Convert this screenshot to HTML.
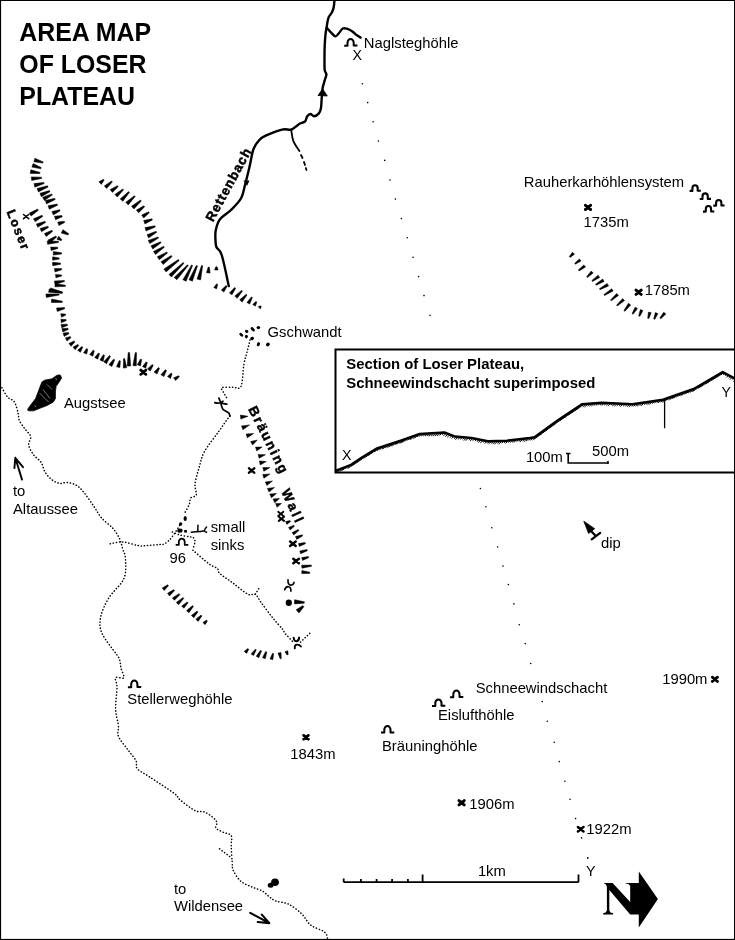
<!DOCTYPE html>
<html><head><meta charset="utf-8"><style>html,body{margin:0;padding:0;background:#fff;width:735px;height:940px;overflow:hidden}svg{display:block;will-change:transform}</style></head>
<body><svg width="735" height="940" viewBox="0 0 735 940">
<rect width="735" height="940" fill="#fff"/>
<text x="19.3" y="41.3" font-family="Liberation Sans" font-size="24.9" font-weight="bold" >AREA MAP</text>
<text x="19.3" y="73.3" font-family="Liberation Sans" font-size="24.9" font-weight="bold" >OF LOSER</text>
<text x="19.3" y="105.3" font-family="Liberation Sans" font-size="24.9" font-weight="bold" >PLATEAU</text>
<path d="M334.5,0 C334.4,1.2 334.1,5.3 333.7,7.3 C333.3,9.3 332.8,10.6 332,12.2 C331.2,13.8 329.5,15.6 328.8,17.1 C328.1,18.6 328,19.6 327.6,21.2 C327.2,22.8 327.1,24.7 326.7,26.9 C326.3,29.1 325.8,31.2 325.5,34.3 C325.2,37.4 324.9,41.4 324.7,45.7 C324.5,50 324.5,55.9 324.5,60 C324.5,64.1 324.4,67.8 324.7,70.2 C325,72.6 326.4,72.8 326.4,74.5 C326.4,76.2 325.3,78.1 324.7,80.4 C324.1,82.7 323.1,85.1 322.6,88.1 C322.1,91.1 322,94.9 321.7,98.3 C321.4,101.7 321.4,106 320.9,108.5 C320.4,111 319.8,112.3 318.7,113.6 C317.6,114.9 315.4,116.1 314,116.2 C312.6,116.3 311.7,114 310.6,114 C309.5,114 308.1,115 307.2,116.2 C306.3,117.4 306.3,120.1 305.1,121.3 C303.9,122.5 301.3,122.8 300,123.5 C298.7,124.2 298.8,124.5 297.3,125.5 C295.8,126.5 293.8,128.9 291.2,129.6 C288.6,130.3 286.2,128.6 282,129.6 C277.8,130.6 269.4,134 265.7,135.7 C262,137.4 261.6,137.6 259.6,139.8 C257.6,142 255.2,144.4 253.5,149 C251.8,153.6 250.8,161.5 249.4,167.3 C248,173.1 246.7,178.6 245.3,183.7 C243.9,188.8 243.6,193.6 241.2,198 C238.8,202.4 234.6,206.4 231,210 C227.4,213.6 222.4,216 219.8,219.4 C217.2,222.8 216.4,227.2 215.7,230.6 C215,234 215.4,237.3 215.5,240 C215.6,242.7 215.4,244.5 216.4,247 C217.4,249.5 219.6,248.5 221.7,255 C223.8,261.5 227.6,280.8 228.8,286" fill="none" stroke="#000" stroke-width="2.4" stroke-linecap="round" stroke-linejoin="round" />
<path d="M326.7,27.8 C327.3,28.5 329,30.4 330.4,31.8 C331.8,33.2 333.9,36 335.3,36.3 C336.7,36.6 337.4,34.8 338.6,33.5 C339.8,32.2 341.4,29.4 342.7,28.6 C344,27.8 345.1,28.1 346.7,28.6 C348.3,29.1 350.8,30.3 352.4,31.4 C354,32.5 355.1,34.1 356.5,35.1 C357.9,36.1 359.9,37.2 360.6,37.6" fill="none" stroke="#000" stroke-width="2.4" stroke-linecap="round" stroke-linejoin="round" />
<path d="M291.2,129.6 C291.6,131.5 291.9,137.2 293.3,140.8 C294.7,144.4 298.4,149.3 299.4,151" fill="none" stroke="#000" stroke-width="1.8" stroke-linecap="round" stroke-linejoin="round" />
<polyline points="301,155 302.5,158" fill="none" stroke="#000" stroke-width="1.8" stroke-linecap="round" stroke-linejoin="round" />
<polyline points="304,162 305,165" fill="none" stroke="#000" stroke-width="1.8" stroke-linecap="round" stroke-linejoin="round" />
<polyline points="305.8,168 306.5,170" fill="none" stroke="#000" stroke-width="1.8" stroke-linecap="round" stroke-linejoin="round" />
<polygon points="322.6,88.8 318,95.5 327.3,96" stroke="#000" stroke-width="0.8" stroke-linejoin="round"/>
<polygon points="247,186 243.5,180.5 249.5,180.5" fill="#000"/>
<text transform="translate(213,222.5) rotate(-61.5)" font-family="Liberation Sans" font-size="13.2" font-weight="bold" letter-spacing="1" stroke="#000" stroke-width="0.5">Rettenbach</text>
<g stroke="#000" stroke-width="0.5" stroke-linejoin="round"><polygon points="33.9,161.8 42.8,163.1 43.2,161.9 34.9,158.2"/><polygon points="31.9,167.1 40.8,168.8 41.2,167.6 33.1,163.5"/><polygon points="30.2,173.4 39.9,173.6 40.1,172.4 30.8,169.8"/><polygon points="31.7,180.5 41.7,178.4 41.5,177.2 31.3,176.9"/><polygon points="34.8,187.2 44.2,183.6 43.8,182.4 34,183.6"/><polygon points="38.4,191.9 48,187 47.6,185.8 37,188.5"/><polygon points="41.3,196.7 50,191.8 49.4,190.6 39.9,193.3"/><polygon points="44.4,200.5 52.3,195.1 51.7,193.9 42.6,197.3"/><polygon points="46.5,203.9 55.2,199.5 54.8,198.3 45.3,200.5"/><polygon points="49.3,209.3 57.6,205.2 57.2,204 48.1,205.7"/><polygon points="53.3,214.9 60,210.9 59.6,209.7 51.9,211.5"/><polygon points="55.5,219.8 62.3,216.7 61.9,215.5 54.5,216.2"/><polygon points="58.9,225.6 64.7,222.4 64.3,221.2 57.7,222"/><polygon points="61.3,233.1 68.1,234.9 68.7,233.7 62.9,229.7"/></g>
<g stroke="#000" stroke-width="0.5" stroke-linejoin="round"><polygon points="31.1,216.1 38.3,210.3 37.7,209.1 29.3,213.1"/><polygon points="35.1,221.8 42.7,216.4 42.1,215.2 33.5,218.8"/><polygon points="37.8,227.2 45.6,222.5 45,221.3 36.4,224"/><polygon points="41.5,231.7 48.5,227.4 47.9,226.2 40.1,228.5"/><polygon points="46.2,236.5 52.5,231.5 51.9,230.3 44.4,233.5"/><polygon points="50,243 56.7,237.1 55.9,236.1 48,240"/><polygon points="47.5,244.3 58.5,242.5 58.5,241.3 47.3,240.9"/><polygon points="56.9,239.3 61.3,240.7 61.9,239.7 58.7,236.3"/><polygon points="51.2,250.5 57.9,248.4 57.7,247.2 50.6,247.1"/><polygon points="53.3,255.1 61.6,254 61.6,252.7 53.3,251.6"/><polygon points="52.6,260.2 59.2,259.1 59.2,257.9 52.6,256.8"/><polygon points="52.7,265.7 60.6,264.3 60.6,263.1 52.5,262.3"/><polygon points="55,272 61.7,269.8 61.5,268.6 54.4,268.6"/><polygon points="55.9,277.8 61.7,276.1 61.5,274.9 55.5,274.4"/><polygon points="55,284.4 64.5,281.6 64.3,280.4 54.4,281"/><polygon points="54.9,286.8 65.4,286.4 65.4,285.2 55.1,283.4"/><polygon points="49.8,291.3 62.1,293.3 62.5,292.1 50.6,287.9"/><polygon points="48.6,292.3 62.2,293.2 62.4,292 49.2,288.9"/><polygon points="46.3,297.4 59.2,295.1 59,293.9 45.9,294"/><polygon points="51.3,302.5 62.2,302.4 62.4,301.2 51.7,299.1"/><polygon points="57.3,311.5 64.7,308.8 64.5,307.6 56.5,308.1"/><polygon points="61.5,317.2 65.6,315.2 65.4,314 60.7,313.8"/><polygon points="61.4,322.7 66.3,320.6 66.1,319.4 60.8,319.3"/><polygon points="61.8,327.8 67.5,325.4 67.3,324.2 61,324.4"/><polygon points="62.7,331.9 68.2,329.5 68,328.3 61.9,328.5"/><polygon points="64.1,336.4 68.9,333.7 68.5,332.5 63.1,333"/><polygon points="67,341.1 70.9,337.8 70.3,336.6 65.4,337.9"/><polygon points="71.1,346.3 74.9,341.9 74.1,340.9 68.9,343.5"/><polygon points="75.2,349.7 78.7,345.4 77.9,344.4 73,347.1"/><polygon points="80.4,352.3 82.8,347.2 81.8,346.4 77.6,350.3"/><polygon points="86.7,354.1 87.8,349.2 86.6,348.6 83.5,352.7"/><polygon points="92.9,356.2 94.3,350.8 93.1,350.2 89.7,354.6"/><polygon points="97.7,359.2 99.6,353.7 98.4,353.1 94.7,357.4"/><polygon points="103.1,361.4 104.5,355.3 103.3,354.7 99.9,360"/><polygon points="106.5,363.8 110.5,356.2 109.5,355.4 103.7,361.8"/><polygon points="111.9,366.5 114.7,359.8 113.5,359.2 108.9,364.7"/><polygon points="119.9,367.6 120.4,360.9 119.2,360.5 116.5,366.8"/><polygon points="126.7,367.7 124.7,358.6 123.5,358.8 123.3,368.1"/><polygon points="130.7,366.1 129.6,352.6 128.2,352.6 127.2,366.1"/><polygon points="136.3,365.9 136.5,352.7 135.3,352.5 132.9,365.5"/><polygon points="140.5,365.9 141.7,359.4 140.5,359 137.3,364.7"/><polygon points="145.7,368.2 147.3,362.5 146.1,361.9 142.5,366.6"/><polygon points="150.3,371.1 153.3,365.2 152.3,364.4 147.5,368.9"/><polygon points="157,374.1 159.5,368.3 158.5,367.5 154,372.1"/><polygon points="163.9,376.6 166.5,370.4 165.3,369.8 160.9,374.8"/><polygon points="170.5,378.5 172.1,373.9 171.1,373.1 167.5,376.5"/><polygon points="175.6,380.6 179.4,376.7 178.6,375.7 173.6,377.8"/></g>
<g stroke="#000" stroke-width="0.5" stroke-linejoin="round"><polygon points="101.3,184.4 104.2,180.1 103.4,179.3 98.9,181.8"/><polygon points="106.7,188.5 112.4,181.8 111.6,181 104.3,185.9"/><polygon points="112.4,192.4 118.2,186.7 117.4,185.7 110.2,189.6"/><polygon points="117.3,197 123.6,189.7 122.8,188.9 114.9,194.4"/><polygon points="122.8,201.3 129.4,192.4 128.6,191.6 120.2,198.9"/><polygon points="128.2,204.9 135.2,196.5 134.4,195.7 125.8,202.3"/><polygon points="133.9,209 141.3,201 140.5,200 131.5,206.2"/><polygon points="138.6,212.8 144.7,206.8 143.9,205.8 136.4,210"/><polygon points="143.7,218 149.3,212.8 148.7,211.8 141.7,215"/><polygon points="144.9,223.9 152.4,220 152,218.8 143.7,220.5"/><polygon points="146,231 155.3,227 154.9,225.8 145,227.6"/><polygon points="148.6,237.9 156.7,232.3 156.1,231.3 147,234.7"/><polygon points="149.8,243.6 158.6,238 158,237 148.2,240.4"/><polygon points="152.8,249 161.1,242.8 160.5,241.8 151,245.8"/><polygon points="155.5,254.4 164.3,247.3 163.7,246.3 153.5,251.4"/><polygon points="159.3,259.8 167.5,253 166.9,252 157.3,256.8"/><polygon points="163.2,264.5 172.1,256.5 171.3,255.5 161,261.7"/><polygon points="166.1,271.9 179.2,260.5 178.4,259.5 163.9,269.1"/><polygon points="171.4,277 184,263.3 183.2,262.5 169,274.4"/><polygon points="176.8,279.8 188.3,265.6 187.5,264.8 174.2,277.4"/><polygon points="186.1,281.3 192.6,265.5 191.6,264.9 182.9,279.7"/><polygon points="192.4,281.2 197.5,265.9 196.3,265.5 189,279.8"/><polygon points="200.6,279.9 202.7,265.8 201.5,265.6 197,279.1"/><polygon points="210.1,273.1 209.4,267.2 208.2,267 206.5,272.7"/><polygon points="218.2,270 217,266.7 215.8,266.7 214.6,270"/></g>
<g stroke="#000" stroke-width="0.5" stroke-linejoin="round"><polygon points="216.6,288.9 217.7,284.4 216.7,283.8 213.8,287.5"/><polygon points="223.9,292.1 227.1,286.2 226.1,285.4 221.3,290.1"/><polygon points="232,294.8 235.7,288.2 234.7,287.4 229.4,293"/><polygon points="237.2,298.3 242.5,291.1 241.7,290.3 234.8,296.1"/><polygon points="242.1,302 247,295.1 246.2,294.3 239.7,299.8"/><polygon points="249.7,304.1 252.4,297.5 251.4,296.9 246.9,302.5"/><polygon points="255.3,306.2 256.9,302 255.9,301.4 252.7,304.4"/><polygon points="260.4,308.9 261.3,306.6 260.5,305.8 258.2,306.7"/></g>
<g stroke="#000" stroke-width="0.5" stroke-linejoin="round"><polygon points="572.5,252.2 569.3,256.6 570.1,257.4 574.5,254.2"/><polygon points="579.4,258.9 574.7,263.2 575.3,264.2 581,261.1"/><polygon points="583.9,264.9 578.3,269.9 579.1,270.9 585.5,267.1"/><polygon points="591.2,271 586.6,276.8 587.4,277.6 593.2,273"/><polygon points="598.1,275.2 591.9,280.4 592.5,281.4 599.7,277.6"/><polygon points="602.7,279 595.6,284.2 596.2,285.2 604.1,281.4"/><polygon points="607.2,283.5 599.4,288.7 600,289.7 608.6,285.9"/><polygon points="611.7,288.7 603.9,294.6 604.5,295.6 613.1,291.1"/><polygon points="616.7,293.4 610.5,300 611.3,300.8 618.5,295.4"/><polygon points="622.7,298.6 616.5,305.2 617.3,306 624.5,300.6"/><polygon points="628.5,303.2 623.9,310.5 624.9,311.3 630.7,305"/><polygon points="635.1,307.2 632.1,313.6 633.1,314.2 637.5,308.6"/><polygon points="640.3,309.6 638.7,315.9 639.9,316.3 642.9,310.6"/><polygon points="648.4,312.1 647.7,318.3 648.9,318.5 651.2,312.7"/><polygon points="655.3,312.6 653.7,318.9 654.9,319.3 657.9,313.6"/><polygon points="663.7,312.2 659.8,318 660.8,318.8 665.9,314"/></g>
<polygon points="60.8,375.8 61.5,378.2 58.1,383.6 56.1,386.3 55.4,391.8 55.4,398.6 53.3,402 47.2,405.4 40.4,408.1 33.6,410.8 28.2,410.8 27.5,409.5 30.9,404.7 35.6,398.6 39,389.7 41.8,382.2 44.5,380.2 52,378.8 56.7,375.4 59.5,374.8" fill="#000" stroke="#000" stroke-width="0.8" stroke-linejoin="round"/>
<path d="M39.5,393 L48.5,402 M43,389.5 L50,398.5 M47,384.5 L52,389.5 M34.5,405 L36,407 M55.5,378 L57,380" stroke="#fff" stroke-width="0.55" opacity="0.85"/>
<path d="M1.9,387.7 C2.9,389.3 5.6,394.8 7.7,397.2 C9.8,399.6 12.7,399.3 14.4,402 C16.1,404.7 17.4,410.5 18.2,413.5 C19,416.5 18.1,417.6 19.2,420.2 C20.3,422.8 23,426.2 24.9,428.9 C26.8,431.6 30.1,433.8 30.7,436.5 C31.3,439.2 28.2,442.1 28.7,445.1 C29.2,448.1 31.4,451.8 33.5,454.7 C35.6,457.6 39.3,459.5 41.2,462.4 C43.1,465.3 43.2,469.1 45,472 C46.8,474.9 49.3,477.7 51.7,479.6 C54.1,481.5 56.9,482.9 59.4,483.4 C61.9,483.9 64.1,482.2 67,482.5 C69.9,482.8 73.7,483.6 76.6,485.4 C79.5,487.1 81.4,489.5 84.3,493 C87.2,496.5 91,502.2 93.9,506.4 C96.8,510.5 98.3,514.2 101.5,517.9 C104.7,521.6 110,525 113,528.5 C116,532 118.1,535.6 119.7,539 C121.3,542.4 121.6,545.2 122.6,548.6 C123.6,552 125.3,554.1 125.5,559.1 C125.7,564.1 126.6,572.3 123.8,578.8 C121,585.3 112.6,591.5 108.8,597.9 C105,604.2 101.8,611 100.7,616.9 C99.6,622.8 99.3,626.9 102,633.3 C104.7,639.6 114,650.5 117,655 C120,659.5 119,657.8 119.7,660 C120.4,662.2 120.3,665.2 121,668.2 C121.7,671.2 124.7,676.1 123.8,677.7 C122.9,679.3 116.7,676.1 115.6,677.7 C114.5,679.3 117,682 117,687.2 C117,692.4 115.4,702.6 115.6,709 C115.8,715.4 117.9,720.8 118.4,725.3 C118.9,729.8 116.8,732.1 118.4,736.2 C120,740.3 125,745.7 127.9,749.8 C130.8,753.9 134.4,757.5 136,760.7 C137.6,763.9 135.1,766.1 137.4,768.8 C139.7,771.5 143.6,772.9 149.7,777 C155.8,781.1 169,789.5 174.1,793.3 C179.2,797.1 176.5,796.9 180,799.8 C183.5,802.7 191.2,808.7 195.2,810.7 C199.2,812.7 201.1,810.7 204,811.8 C206.9,812.9 210.5,815.4 212.7,817.2 C214.9,819 216.5,820.9 217,822.7 C217.5,824.5 214.8,826.5 215.9,828.1 C217,829.7 220.9,831.1 223.5,832.4 C226.1,833.7 229.9,833.3 231.2,835.7 C232.5,838.1 231,842.2 231.2,846.6 C231.4,851 231.8,857.8 232.2,861.8 C232.5,865.8 231.8,867.2 233.3,870.5 C234.8,873.8 237.9,878.7 241,881.4 C244.1,884.1 248.2,885.3 251.8,886.9 C255.4,888.5 259.8,889.6 262.7,891.2 C265.6,892.8 267,895.1 269.2,896.7 C271.4,898.3 272.5,899.7 275.8,901 C279.1,902.3 284.5,902.1 288.8,904.3 C293.1,906.5 298.3,910.6 301.9,914.1 C305.5,917.6 307,922.1 310.6,925 C314.2,927.9 321,929.7 323.7,931.5 C326.4,933.3 326.4,934.5 327,935.8 C327.6,937 327.4,938.5 327.5,939" fill="none" stroke="#000" stroke-width="1.5" stroke-linecap="round" stroke-linejoin="round" stroke-dasharray="0.25 2.9"/>
<polyline points="219.5,848.8 230.3,857" fill="none" stroke="#000" stroke-width="1.5" stroke-linecap="round" stroke-linejoin="round" stroke-dasharray="0.25 2.9"/>
<path d="M110.2,543.8 C112.3,543.5 117.8,541.6 122.6,541.9 C127.4,542.2 134.3,545.1 138.9,545.7 C143.5,546.3 146.5,545.5 150,545.3 C153.5,545.1 157.5,544.8 160,544.5 C162.5,544.2 163,544.9 165,543.6 C167,542.4 169.4,540.3 172,537 C174.6,533.7 179.2,526.2 180.6,524" fill="none" stroke="#000" stroke-width="1.5" stroke-linecap="round" stroke-linejoin="round" stroke-dasharray="0.25 2.9"/>
<path d="M172.3,532 C173.6,532.5 177.1,534.2 180,535 C182.9,535.8 187.3,536.4 189.5,536.8 C191.7,537.2 192.3,536.7 193.2,537.5 C194.1,538.3 195.1,539.8 195,541.7 C194.9,543.6 193.2,547.8 192.9,549" fill="none" stroke="#000" stroke-width="1.5" stroke-linecap="round" stroke-linejoin="round" stroke-dasharray="0.25 2.9"/>
<path d="M250,340 C249.6,341.7 248.5,346.1 247.5,350.2 C246.5,354.3 245,358.3 243.9,364.4 C242.8,370.4 242.8,382.7 241,386.5 C239.2,390.3 236.2,387 233,387.2 C229.8,387.4 223.6,386.9 221.9,387.6 C220.2,388.3 222.6,390.3 223,391.4 C223.4,392.5 224.1,393.5 224.6,394.4 C225.1,395.3 225.8,395.7 226.2,396.6 C226.6,397.5 226.7,399.3 226.8,399.9" fill="none" stroke="#000" stroke-width="1.5" stroke-linecap="round" stroke-linejoin="round" stroke-dasharray="0.25 2.9"/>
<path d="M230,416 C229.6,416.5 229.6,416.2 227.6,418.9 C225.6,421.6 221.9,427 218.1,432.4 C214.2,437.8 207.7,445.6 204.5,451.5 C201.3,457.4 200.6,462.4 199,467.8 C197.4,473.2 195.4,479.6 195,484.1 C194.6,488.6 197,492.7 196.3,495 C195.6,497.3 192.1,496.1 190.9,497.8 C189.7,499.5 190.2,502.3 189,505 C187.8,507.7 184.8,512.7 184,514.2" fill="none" stroke="#000" stroke-width="1.5" stroke-linecap="round" stroke-linejoin="round" stroke-dasharray="0.25 2.9"/>
<path d="M192.9,550.2 C195.6,552.5 204.7,560.6 208.8,563.7 C212.9,566.8 215.6,567 217.4,568.6 C219.2,570.2 217.2,571 219.8,573.5 C222.5,576 228.6,579.8 233.3,583.3 C238,586.8 244.3,592.5 248,594.3 C251.7,596.1 253.1,592.9 255.3,594.3 C257.5,595.7 258.5,599 261.4,602.9 C264.3,606.8 269,613.2 272.5,617.6 C276,622 280.5,626.7 282.6,629.3 C284.7,631.9 283.2,631 285,633.2 C286.8,635.4 292.2,641 293.6,642.6" fill="none" stroke="#000" stroke-width="1.5" stroke-linecap="round" stroke-linejoin="round" stroke-dasharray="0.25 2.9"/>
<polyline points="255.3,594.3 259,588.2" fill="none" stroke="#000" stroke-width="1.5" stroke-linecap="round" stroke-linejoin="round" stroke-dasharray="0.25 2.9"/>
<polyline points="300.5,642.1 310.3,632.8" fill="none" stroke="#000" stroke-width="1.5" stroke-linecap="round" stroke-linejoin="round" stroke-dasharray="0.25 2.9"/>
<circle cx="362.3" cy="83.8" r="0.8"/>
<circle cx="367.7" cy="102.6" r="0.8"/>
<circle cx="373.1" cy="121.7" r="0.8"/>
<circle cx="378.4" cy="141" r="0.8"/>
<circle cx="384.7" cy="160.4" r="0.8"/>
<circle cx="390" cy="180" r="0.8"/>
<circle cx="395.4" cy="199.1" r="0.8"/>
<circle cx="401.4" cy="218.5" r="0.8"/>
<circle cx="407.3" cy="237.8" r="0.8"/>
<circle cx="413" cy="257.2" r="0.8"/>
<circle cx="418.6" cy="276.6" r="0.8"/>
<circle cx="424" cy="295.6" r="0.8"/>
<circle cx="430" cy="315.3" r="0.8"/>
<circle cx="480.4" cy="488.5" r="0.8"/>
<circle cx="485.9" cy="506.7" r="0.8"/>
<circle cx="491.8" cy="527.7" r="0.8"/>
<circle cx="497.6" cy="547" r="0.8"/>
<circle cx="503" cy="566" r="0.8"/>
<circle cx="508.4" cy="584.6" r="0.8"/>
<circle cx="513.9" cy="603.9" r="0.8"/>
<circle cx="519.3" cy="624.8" r="0.8"/>
<circle cx="525.3" cy="643.6" r="0.8"/>
<circle cx="530.7" cy="663.5" r="0.8"/>
<circle cx="542.2" cy="701.6" r="0.8"/>
<circle cx="547.3" cy="721.3" r="0.8"/>
<circle cx="554.2" cy="742.3" r="0.8"/>
<circle cx="559.3" cy="761.6" r="0.8"/>
<circle cx="564.9" cy="781.3" r="0.8"/>
<circle cx="570" cy="799.3" r="0.8"/>
<circle cx="575.6" cy="818.6" r="0.8"/>
<circle cx="581.6" cy="837.9" r="0.8"/>
<circle cx="587.7" cy="858" r="0.8"/>
<polygon points="240.8,419.1 248,416.3 240.4,415.1" stroke="#000" stroke-width="0.5" stroke-linejoin="round"/>
<polygon points="242.9,429.7 249.6,424.9 241.5,425.9" stroke="#000" stroke-width="0.5" stroke-linejoin="round"/>
<polygon points="247.3,437.8 253.7,433.5 246.1,434" stroke="#000" stroke-width="0.5" stroke-linejoin="round"/>
<polygon points="252.6,445 257.3,440 250.6,441.6" stroke="#000" stroke-width="0.5" stroke-linejoin="round"/>
<polygon points="256.7,450.9 262.2,447 255.5,447.1" stroke="#000" stroke-width="0.5" stroke-linejoin="round"/>
<polygon points="259.1,458.2 265.5,454.7 258.1,454.4" stroke="#000" stroke-width="0.5" stroke-linejoin="round"/>
<polygon points="260.2,464.9 266.3,461.6 259.4,460.9" stroke="#000" stroke-width="0.5" stroke-linejoin="round"/>
<polygon points="263.8,471.3 270,467.5 262.8,467.5" stroke="#000" stroke-width="0.5" stroke-linejoin="round"/>
<polygon points="263.9,478.2 270,474 262.7,474.4" stroke="#000" stroke-width="0.5" stroke-linejoin="round"/>
<polygon points="266.9,485.5 272.5,481 265.3,481.9" stroke="#000" stroke-width="0.5" stroke-linejoin="round"/>
<polygon points="269,492 274.5,487.5 267.4,488.4" stroke="#000" stroke-width="0.5" stroke-linejoin="round"/>
<polygon points="271.4,497.8 276.5,493.5 269.8,494" stroke="#000" stroke-width="0.5" stroke-linejoin="round"/>
<polygon points="274.7,502.7 279.5,498.5 273.1,498.9" stroke="#000" stroke-width="0.5" stroke-linejoin="round"/>
<polygon points="277,507.2 281.5,503.5 275.6,503.4" stroke="#000" stroke-width="0.5" stroke-linejoin="round"/>
<text transform="translate(248,409) rotate(63.5)" font-family="Liberation Sans" font-size="13.4" font-weight="bold" letter-spacing="2" stroke="#000" stroke-width="0.5">Bräuning</text>
<text transform="translate(281,491.6) rotate(65.4)" font-family="Liberation Sans" font-size="13.4" font-weight="bold" letter-spacing="2.6" stroke="#000" stroke-width="0.5">Wall</text>
<g stroke="#000" stroke-width="0.5" stroke-linejoin="round"><polygon points="286.8,524.4 290.6,521.6 290,520.6 285.6,521.6"/><polygon points="290.2,530 294.4,526.3 293.8,525.3 288.6,527.4"/><polygon points="293.7,535 298.9,530.5 298.3,529.5 292.1,532.6"/><polygon points="296.7,539.4 302.6,536 302.2,534.8 295.5,536.6"/><polygon points="299.3,546.4 305.5,543.7 305.1,542.5 298.5,543.6"/><polygon points="300.6,553.7 307.4,550.7 307,549.5 299.8,550.9"/><polygon points="302.5,560.4 308.7,557.7 308.3,556.5 301.7,557.6"/><polygon points="302,568.2 311.5,566.3 311.3,565.1 301.6,565.2"/><polygon points="301.7,573.6 309.7,573.4 309.9,572.2 301.9,570.6"/></g>
<g stroke="#000" stroke-width="0.5" stroke-linejoin="round"><polygon points="164.2,590.5 168.5,585.7 167.7,584.7 162.2,588.1"/><polygon points="169.5,595.9 174.6,590.6 173.8,589.6 167.5,593.3"/><polygon points="174.4,600.3 179.9,594.7 179.1,593.7 172.4,597.9"/><polygon points="178.5,604.8 183.9,598.3 183.1,597.5 176.3,602.4"/><polygon points="183.9,608.3 188.1,602.7 187.3,601.9 181.7,606.1"/><polygon points="188.9,612.8 193.4,606.4 192.6,605.6 186.5,610.6"/><polygon points="193.8,617.7 197.9,611.9 197.1,611.1 191.4,615.5"/><polygon points="198.2,621.4 201.9,615.9 201.1,615.1 195.8,619.2"/><polygon points="205.1,624.7 207.4,620.9 206.6,620.1 202.9,622.5"/></g>
<g stroke="#000" stroke-width="0.5" stroke-linejoin="round"><polygon points="246.6,653.4 248.8,649.3 247.8,648.5 244.2,651.4"/><polygon points="253.5,655.5 256.3,649.8 255.3,649.2 251.1,653.9"/><polygon points="258.8,657.7 261.5,650.9 260.5,650.3 256.2,656.3"/><polygon points="265.3,658.7 266.8,652 265.6,651.6 262.5,657.7"/><polygon points="272.8,659.7 273.7,653.7 272.5,653.3 270,658.9"/><polygon points="278,653.1 280.1,658.8 281.3,658.6 281,652.5"/><polygon points="285,651.7 287,654.9 288.2,654.5 287.8,650.7"/></g>
<text x="363.8" y="47.6" font-family="Liberation Sans" font-size="14.8" >Naglsteghöhle</text>
<text x="352.6" y="60.4" font-family="Liberation Sans" font-size="14.2" >X</text>
<text x="523.8" y="186.9" font-family="Liberation Sans" font-size="14.8" >Rauherkarhöhlensystem</text>
<text x="583.5" y="227.3" font-family="Liberation Sans" font-size="14.8" >1735m</text>
<text x="644.7" y="294.7" font-family="Liberation Sans" font-size="14.8" >1785m</text>
<text x="267.6" y="337.2" font-family="Liberation Sans" font-size="14.8" >Gschwandt</text>
<text x="64" y="408.4" font-family="Liberation Sans" font-size="14.8" >Augstsee</text>
<text x="13" y="495.9" font-family="Liberation Sans" font-size="14.8" >to</text>
<text x="13" y="514.4" font-family="Liberation Sans" font-size="14.8" >Altaussee</text>
<text x="210.7" y="531.8" font-family="Liberation Sans" font-size="14.8" >small</text>
<text x="210.7" y="550.2" font-family="Liberation Sans" font-size="14.8" >sinks</text>
<text x="169.6" y="562.5" font-family="Liberation Sans" font-size="14.8" >96</text>
<text x="601" y="547.6" font-family="Liberation Sans" font-size="14.8" >dip</text>
<text x="127.3" y="703.5" font-family="Liberation Sans" font-size="14.8" >Stellerweghöhle</text>
<text x="290.3" y="758.5" font-family="Liberation Sans" font-size="14.8" >1843m</text>
<text x="382" y="750.7" font-family="Liberation Sans" font-size="14.8" >Bräuninghöhle</text>
<text x="475.7" y="693" font-family="Liberation Sans" font-size="14.8" >Schneewindschacht</text>
<text x="438" y="720.2" font-family="Liberation Sans" font-size="14.8" >Eislufthöhle</text>
<text x="662.2" y="683.6" font-family="Liberation Sans" font-size="14.8" >1990m</text>
<text x="469.3" y="809.2" font-family="Liberation Sans" font-size="14.8" >1906m</text>
<text x="586.3" y="833.6" font-family="Liberation Sans" font-size="14.8" >1922m</text>
<text x="174" y="893.7" font-family="Liberation Sans" font-size="14.8" >to</text>
<text x="174" y="911.4" font-family="Liberation Sans" font-size="14.8" >Wildensee</text>
<text x="477.9" y="876" font-family="Liberation Sans" font-size="14.8" >1km</text>
<text x="586" y="875.7" font-family="Liberation Sans" font-size="14.2" >Y</text>
<text transform="translate(6.6,211.8) rotate(68.5)" font-family="Liberation Sans" font-size="12.6" font-weight="bold" letter-spacing="1.8" stroke="#000" stroke-width="0.5">Loser</text>
<path d="M344.2,45.7 h3.3 v-3 a3.1,3.6 0 0 1 6.2,0 v2.8 h3.8" fill="none" stroke="#000" stroke-width="2" stroke-linejoin="round"/>
<path d="M689.6,190.9 h2.8 v-2.5 a2.6,3.1 0 0 1 5.3,0 v2.4 h3.2" fill="none" stroke="#000" stroke-width="2.1" stroke-linejoin="round"/>
<path d="M699.7,199 h2.8 v-2.5 a2.6,3.1 0 0 1 5.3,0 v2.4 h3.2" fill="none" stroke="#000" stroke-width="2.1" stroke-linejoin="round"/>
<path d="M713.3,205.6 h2.8 v-2.5 a2.6,3.1 0 0 1 5.3,0 v2.4 h3.2" fill="none" stroke="#000" stroke-width="2.1" stroke-linejoin="round"/>
<path d="M703,211.6 h2.8 v-2.5 a2.6,3.1 0 0 1 5.3,0 v2.4 h3.2" fill="none" stroke="#000" stroke-width="2.1" stroke-linejoin="round"/>
<path d="M127.9,687.2 h3.3 v-3 a3.1,3.6 0 0 1 6.2,0 v2.8 h3.8" fill="none" stroke="#000" stroke-width="2" stroke-linejoin="round"/>
<path d="M381,732.6 h3.3 v-3 a3.1,3.6 0 0 1 6.2,0 v2.8 h3.8" fill="none" stroke="#000" stroke-width="2" stroke-linejoin="round"/>
<path d="M432,706 h3.3 v-3 a3.1,3.6 0 0 1 6.2,0 v2.8 h3.8" fill="none" stroke="#000" stroke-width="2" stroke-linejoin="round"/>
<path d="M450,697.2 h3.3 v-3 a3.1,3.6 0 0 1 6.2,0 v2.8 h3.8" fill="none" stroke="#000" stroke-width="2" stroke-linejoin="round"/>
<path d="M175.7,544.9 h3.1 v-2.8 a2.9,3.4 0 0 1 5.9,0 v2.7 h3.6" fill="none" stroke="#000" stroke-width="1.7" stroke-linejoin="round"/>
<path d="M585.4,205.3 L590.6,209.5 M585.4,209.5 L590.6,205.3" stroke="#000" stroke-width="3" stroke-linecap="round"/>
<circle cx="588" cy="207.4" r="2"/>
<path d="M636,290.1 L641.2,294.3 M636,294.3 L641.2,290.1" stroke="#000" stroke-width="3" stroke-linecap="round"/>
<circle cx="638.6" cy="292.2" r="2"/>
<path d="M140.7,370.1 L145.9,374.3 M140.7,374.3 L145.9,370.1" stroke="#000" stroke-width="2.8" stroke-linecap="round"/>
<circle cx="143.3" cy="372.2" r="1.8"/>
<path d="M303.6,735.4 L308.4,739.2 M303.6,739.2 L308.4,735.4" stroke="#000" stroke-width="2.8" stroke-linecap="round"/>
<circle cx="306" cy="737.3" r="1.8"/>
<path d="M712.3,677.2 L717.5,681.4 M712.3,681.4 L717.5,677.2" stroke="#000" stroke-width="2.8" stroke-linecap="round"/>
<circle cx="714.9" cy="679.3" r="1.8"/>
<path d="M459,800.6 L464.2,804.8 M459,804.8 L464.2,800.6" stroke="#000" stroke-width="3" stroke-linecap="round"/>
<circle cx="461.6" cy="802.7" r="2"/>
<path d="M577.9,827.1 L583.5,831.5 M577.9,831.5 L583.5,827.1" stroke="#000" stroke-width="2.5" stroke-linecap="round"/>
<circle cx="580.7" cy="829.3" r="1.7"/>
<path d="M23.5,214.5 L28.7,218.7 M23.5,218.7 L28.7,214.5" stroke="#000" stroke-width="1.6" stroke-linecap="round"/>
<path d="M249,468.4 L254.2,472.6 M249,472.6 L254.2,468.4" stroke="#000" stroke-width="2.5" stroke-linecap="round"/>
<circle cx="251.6" cy="470.5" r="1.7"/>
<path d="M278.8,516.7 L284,520.9 M278.8,520.9 L284,516.7" stroke="#000" stroke-width="2.1" stroke-linecap="round"/>
<path d="M290.1,541.5 L295.7,545.9 M290.1,545.9 L295.7,541.5" stroke="#000" stroke-width="2.5" stroke-linecap="round"/>
<circle cx="292.9" cy="543.7" r="1.7"/>
<path d="M293.3,558.8 L298.9,563.2 M293.3,563.2 L298.9,558.8" stroke="#000" stroke-width="2.5" stroke-linecap="round"/>
<circle cx="296.1" cy="561" r="1.7"/>
<path d="M278.2,511.8 L283.4,516 M278.2,516 L283.4,511.8" stroke="#000" stroke-width="1.8" stroke-linecap="round"/>
<path d="M218.9,398 C219.5,400 220.5,401.5 220.8,402.9 M214.8,402.6 C217,403.5 219,403 220.8,402.9 C223,403.5 225,403.8 226.8,404.2 M223,401.2 L221.5,402.5 M220.8,403.5 C221.5,406 222,408 223,409.4 C225,411 227.5,412 229,413.2 L230,416" fill="none" stroke="#000" stroke-width="1.7" stroke-linecap="round" stroke-linejoin="round"/>
<path d="M293.6,637.7 C294,640.5 295,641.3 296.4,641.3 C298,641.3 299,640 299.1,637.4 M294.8,648.3 C294.5,645.5 295.5,644.6 297.2,644.6 C299,644.6 300.2,645.5 300.9,646.6" fill="none" stroke="#000" stroke-width="1.9" stroke-linecap="round"/>
<ellipse cx="241.3" cy="334.7" rx="2.3" ry="1.4" transform="rotate(40 241.3 334.7)"/>
<ellipse cx="246.7" cy="331.4" rx="1.8" ry="1.5" transform="rotate(30 246.7 331.4)"/>
<ellipse cx="252.7" cy="329.3" rx="2.6" ry="1.5" transform="rotate(45 252.7 329.3)"/>
<ellipse cx="258.4" cy="327.6" rx="1.8" ry="1.7" transform="rotate(0 258.4 327.6)"/>
<ellipse cx="246.4" cy="336.6" rx="1.5" ry="1.8" transform="rotate(0 246.4 336.6)"/>
<ellipse cx="252.1" cy="338.5" rx="2" ry="1.6" transform="rotate(-30 252.1 338.5)"/>
<ellipse cx="258.4" cy="344.2" rx="1.5" ry="2.2" transform="rotate(20 258.4 344.2)"/>
<ellipse cx="267.9" cy="344.5" rx="2" ry="1.7" transform="rotate(-30 267.9 344.5)"/>
<ellipse cx="185.2" cy="518.5" rx="1.6" ry="2.5"/>
<circle cx="180.6" cy="524" r="1.7"/>
<ellipse cx="180" cy="530.7" rx="2.7" ry="2.1"/>
<rect x="184.2" y="530" width="2.7" height="2.6"/>
<path d="M191.3,532.2 C195,531.5 199,532 204.2,530.7 M197.5,531 C198.5,529 197.5,527 198,525.2 M204.2,530.7 C205,529 205.5,528 206.6,527 M204.2,530.7 C205,531.5 205.5,532 206.6,532.2" fill="none" stroke="#000" stroke-width="1.5" stroke-linecap="round"/>
<path d="M288,579.8 C287.5,584 290,585.5 291.5,585 C293,584.5 294,583.5 294,582.2 M284.7,589.8 C285.5,587 287,586.5 288.5,586.7 C290.5,587 291,589.5 290.9,591.3" fill="none" stroke="#000" stroke-width="1.6" stroke-linecap="round"/>
<ellipse cx="288.8" cy="602.7" rx="3.1" ry="3.3"/>
<g stroke="#000" stroke-width="0.5" stroke-linejoin="round"><polygon points="294.4,603.9 304.2,603.2 304.4,601.8 294.6,599.7"/><polygon points="299,613 303.9,606.7 302.9,605.5 296.2,609.8"/></g>
<path d="M22,479.6 L15.3,457.8 M14.4,468.1 L15.3,457.8 L23,467.2" fill="none" stroke="#000" stroke-width="1.9" stroke-linecap="round" stroke-linejoin="round"/>
<path d="M250.2,912.9 L269.3,923.1 M257.7,922 L269.3,923.1 L261.8,914.6" fill="none" stroke="#000" stroke-width="2.1" stroke-linecap="round" stroke-linejoin="round"/>
<ellipse cx="275" cy="882.3" rx="3.9" ry="3.8"/><ellipse cx="270.6" cy="885.2" rx="2.9" ry="2.5"/>
<polygon points="583.8,521.2 594.7,528.7 588.6,533.5" stroke="#000" stroke-width="0.8" stroke-linejoin="round"/>
<path d="M590,530 L595.6,535.8 M591.7,539.3 L600.2,532.8" fill="none" stroke="#000" stroke-width="2.2" stroke-linecap="round"/>
<path d="M343.7,882.2 H578.5 M343.7,878.5 V882.2 M360.9,879 V882.2 M376.6,879 V882.2 M392.1,879 V882.2 M407.9,879 V882.2 M422.6,874.5 V882.2 M578.5,874.5 V882.2" fill="none" stroke="#000" stroke-width="1.8"/>
<circle cx="587.7" cy="858" r="0.8"/>
<path d="M604,882.9 L612.6,882.9 L630.2,901.9 L630.2,886 L628.5,884 L625.5,883.5 L625.5,882.9 L638.8,882.9 L638.8,871.4 L657.9,899 L638.8,927.6 L638.8,914.5 L630.2,914.5 L609.3,890 L609.3,910.5 L610.5,912.5 L613.1,913.3 L613.1,914.5 L603.1,914.5 L603.1,913.3 L605.6,912.5 L606.9,910.5 L606.9,886.5 L605.5,884 L604,883.5 Z" fill="#000"/>
<rect x="335.5" y="349.5" width="400" height="123" fill="none" stroke="#000" stroke-width="2"/>
<text x="346.3" y="368.6" font-family="Liberation Sans" font-size="14.9" font-weight="bold" >Section of Loser Plateau,</text>
<text x="346.3" y="388.4" font-family="Liberation Sans" font-size="14.9" font-weight="bold" >Schneewindschacht superimposed</text>
<text x="342" y="459.7" font-family="Liberation Sans" font-size="14.2" >X</text>
<text x="721.5" y="396.7" font-family="Liberation Sans" font-size="14.2" >Y</text>
<polyline points="336,470.6 350.4,465.2 362.7,457 376.3,448.8 400.7,440.7 419.8,433.9 444.3,432.5 455.2,436.6 471.5,438 487.8,441.2 506.9,440.7 530,438 534.5,437.3 559,419.6 582,404.3 601.8,402.7 632.4,404.3 663,399.7 693.7,389 722.7,372.1 735,378.6" fill="none" stroke="#000" stroke-width="2.5" stroke-linecap="round" stroke-linejoin="round" />
<path d="M337.2,471.1 l-2,1.7 M339.2,470.4 l-2.4,2.1 M341.1,469.6 l-2.1,1.9 M343.1,468.9 l-2.5,2.2 M345,468.2 l-2.5,2.2 M347,467.4 l-1.7,1.5 M349,466.7 l-1.7,1.5 M350.9,466 l-2.8,2.4 M352.7,464.9 l-2,1.8 M354.5,463.8 l-2,1.7 M356.2,462.6 l-3,2.6 M358,461.4 l-2.3,2 M359.7,460.3 l-2.8,2.4 M361.5,459.1 l-2.3,2 M363.2,458 l-2.5,2.2 M365,456.8 l-1.9,1.6 M366.8,455.8 l-2.5,2.2 M368.6,454.7 l-2.8,2.5 M370.4,453.6 l-2.4,2.1 M372.2,452.5 l-2.7,2.3 M374,451.4 l-2.6,2.2 M375.7,450.4 l-1.7,1.5 M377.5,449.3 l-2.7,2.4 M379.5,448.6 l-2.4,2.2 M381.5,448 l-2.1,1.8 M383.5,447.3 l-1.7,1.5 M385.5,446.6 l-2.8,2.5 M387.5,446 l-2.3,2 M389.5,445.3 l-2.6,2.3 M391.5,444.7 l-2.8,2.5 M393.5,444 l-2.6,2.3 M395.4,443.3 l-2.9,2.5 M397.4,442.7 l-2.2,1.9 M399.4,442 l-2.7,2.4 M401.4,441.4 l-2.3,2 M403.4,440.7 l-2.9,2.6 M405.4,440 l-2.8,2.5 M407.3,439.3 l-1.8,1.6 M409.3,438.6 l-1.8,1.6 M411.3,437.9 l-1.9,1.7 M413.3,437.2 l-3,2.6 M415.2,436.5 l-2.2,2 M417.2,435.8 l-2.5,2.2 M419.2,435.1 l-2.1,1.8 M421.2,434.4 l-2.3,2.1 M423.2,434.3 l-2.2,1.9 M425.3,434.2 l-2.1,1.9 M427.4,434 l-2.4,2.1 M429.5,433.9 l-2.4,2.1 M431.6,433.8 l-2.9,2.5 M433.7,433.7 l-2.6,2.3 M435.8,433.6 l-2.9,2.6 M437.9,433.4 l-2.8,2.5 M440,433.3 l-3,2.6 M442.1,433.2 l-2.6,2.2 M444.2,433.1 l-1.9,1.6 M446.2,433.3 l-2.8,2.5 M448.2,434 l-3,2.6 M450.1,434.7 l-2.9,2.5 M452.1,435.5 l-2.4,2.1 M454.1,436.2 l-2.6,2.3 M456,437 l-1.9,1.7 M458.1,437.2 l-2.8,2.4 M460.2,437.4 l-2.4,2.1 M462.2,437.6 l-2,1.8 M464.3,437.8 l-1.7,1.5 M466.4,438 l-2.8,2.5 M468.5,438.1 l-3,2.6 M470.6,438.3 l-1.8,1.6 M472.7,438.5 l-2.7,2.4 M474.7,438.9 l-2.2,1.9 M476.8,439.3 l-1.9,1.6 M478.9,439.7 l-2,1.8 M480.9,440.1 l-2.7,2.4 M483,440.5 l-2.8,2.5 M485,440.9 l-1.7,1.5 M487.1,441.3 l-2.5,2.2 M489.1,441.7 l-1.7,1.5 M491.2,441.6 l-2.6,2.3 M493.3,441.6 l-2.1,1.8 M495.4,441.5 l-2.8,2.5 M497.5,441.5 l-3,2.6 M499.6,441.4 l-2.3,2.1 M501.7,441.4 l-3,2.6 M503.8,441.3 l-2.1,1.8 M505.9,441.3 l-1.8,1.5 M508,441.2 l-2.5,2.2 M510.1,441 l-1.7,1.5 M512.1,440.7 l-1.9,1.7 M514.2,440.5 l-2.2,1.9 M516.3,440.2 l-2.5,2.2 M518.4,440 l-1.9,1.6 M520.5,439.8 l-1.7,1.5 M522.6,439.5 l-2.8,2.5 M524.6,439.3 l-2.1,1.8 M526.7,439 l-2.9,2.6 M528.8,438.8 l-2.9,2.5 M530.9,438.5 l-2.2,1.9 M532.9,438.2 l-2.3,2 M535,437.9 l-2.4,2.1 M536.8,437 l-2.5,2.2 M538.5,435.8 l-2.5,2.2 M540.2,434.5 l-2.4,2.1 M541.9,433.3 l-2.5,2.2 M543.6,432.1 l-2.9,2.6 M545.3,430.8 l-2.3,2.1 M547,429.6 l-2.2,2 M548.7,428.4 l-2.6,2.3 M550.4,427.2 l-2,1.7 M552.1,425.9 l-2.1,1.8 M553.8,424.7 l-3,2.6 M555.5,423.5 l-2.4,2.1 M557.2,422.3 l-2.4,2.1 M558.9,421 l-1.7,1.5 M560.6,419.8 l-2.2,1.9 M562.4,418.7 l-2.4,2.1 M564.1,417.5 l-1.7,1.5 M565.9,416.3 l-2.5,2.2 M567.6,415.2 l-2.5,2.2 M569.3,414 l-1.7,1.5 M571.1,412.9 l-2.5,2.2 M572.8,411.7 l-2.3,2 M574.6,410.5 l-2.6,2.3 M576.3,409.4 l-2.1,1.9 M578.1,408.2 l-2.6,2.3 M579.8,407.1 l-2.6,2.3 M581.6,405.9 l-1.7,1.5 M583.3,404.8 l-1.7,1.5 M585.4,404.6 l-2.6,2.3 M587.5,404.5 l-3,2.6 M589.6,404.3 l-2,1.8 M591.7,404.1 l-2.3,2 M593.8,403.9 l-2.5,2.2 M595.8,403.8 l-2.1,1.8 M597.9,403.6 l-2.1,1.9 M600,403.4 l-2.1,1.8 M602.1,403.3 l-2.1,1.9 M604.2,403.3 l-2.5,2.2 M606.3,403.4 l-2.1,1.8 M608.4,403.5 l-2.2,1.9 M610.5,403.6 l-2.7,2.4 M612.6,403.7 l-1.7,1.5 M614.7,403.8 l-2.4,2.1 M616.8,403.9 l-2.6,2.3 M618.8,404 l-2.1,1.8 M620.9,404.1 l-2,1.7 M623,404.2 l-2.7,2.4 M625.1,404.4 l-2,1.7 M627.2,404.5 l-1.9,1.7 M629.3,404.6 l-2.2,2 M631.4,404.7 l-2.6,2.3 M633.5,404.8 l-1.8,1.6 M635.6,404.5 l-2.1,1.8 M637.6,404.2 l-2.1,1.8 M639.7,403.9 l-2.8,2.4 M641.8,403.6 l-2.2,2 M643.9,403.3 l-2.8,2.5 M645.9,402.9 l-1.9,1.7 M648,402.6 l-2.1,1.9 M650.1,402.3 l-2.5,2.2 M652.1,402 l-2.8,2.5 M654.2,401.7 l-2.3,2 M656.3,401.4 l-2,1.7 M658.4,401.1 l-1.8,1.6 M660.4,400.8 l-2.4,2.1 M662.5,400.5 l-1.9,1.7 M664.6,400.1 l-2.7,2.4 M666.5,399.4 l-2.8,2.4 M668.5,398.7 l-1.9,1.7 M670.5,398 l-2,1.8 M672.5,397.3 l-2.7,2.4 M674.4,396.6 l-2.5,2.2 M676.4,395.9 l-2.7,2.4 M678.4,395.2 l-2.1,1.9 M680.4,394.6 l-1.8,1.6 M682.4,393.9 l-2,1.8 M684.3,393.2 l-2.7,2.4 M686.3,392.5 l-2,1.8 M688.3,391.8 l-2.1,1.9 M690.3,391.1 l-2.2,1.9 M692.3,390.4 l-2.2,2 M694.2,389.7 l-2.2,1.9 M696.1,388.8 l-2.9,2.5 M697.9,387.7 l-1.9,1.6 M699.7,386.7 l-1.7,1.5 M701.5,385.6 l-2.9,2.6 M703.3,384.6 l-2.8,2.5 M705.1,383.5 l-3,2.6 M707,382.5 l-2.2,2 M708.8,381.4 l-2.9,2.6 M710.6,380.4 l-2.9,2.6 M712.4,379.3 l-1.9,1.7 M714.2,378.3 l-2.7,2.3 M716,377.2 l-2.8,2.4 M717.8,376.1 l-2.5,2.2 M719.6,375.1 l-2.4,2.1 M721.4,374 l-2,1.8 M723.2,373 l-2.1,1.9 M725.1,373.2 l-2,1.7 M726.9,374.2 l-1.7,1.5 M728.8,375.2 l-2.4,2.2 M730.6,376.2 l-2,1.8 M732.5,377.1 l-2.7,2.4 M734.3,378.1 l-1.7,1.5 M736.2,379.1 l-2.9,2.5" stroke="#000" stroke-width="0.95" fill="none"/>
<path d="M664.6,399.7 V428.2" stroke="#000" stroke-width="1.3"/>
<text x="525.9" y="462.4" font-family="Liberation Sans" font-size="14.8" >100m</text>
<text x="592" y="455.7" font-family="Liberation Sans" font-size="14.8" >500m</text>
<path d="M568.2,453.3 V463 H608 M566,453.5 H570.5 M608,461 V464" fill="none" stroke="#000" stroke-width="1.6"/>
<rect x="0" y="0" width="735" height="1" fill="#000"/>
<rect x="0" y="0" width="1.1" height="940" fill="#000"/>
<rect x="734" y="0" width="1" height="940" fill="#000"/>
<rect x="0" y="938.9" width="735" height="1.1" fill="#000"/>
</svg></body></html>
